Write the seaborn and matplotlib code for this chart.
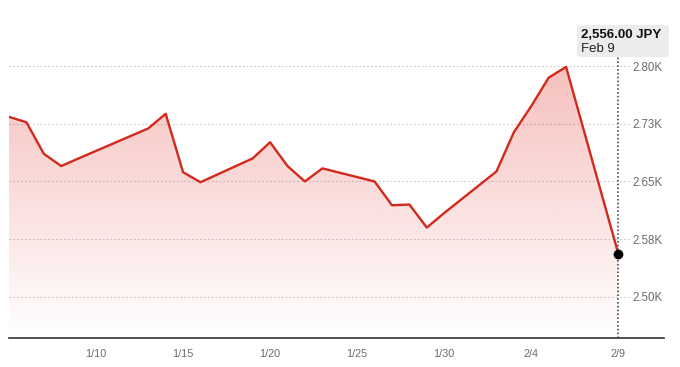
import numpy as np
import pandas as pd
import matplotlib
matplotlib.use("Agg")
import matplotlib.pyplot as plt
import matplotlib.dates as mdates
from matplotlib.patches import FancyBboxPatch
import seaborn as sns

# ---- data ----
dates = ["2026-01-05", "2026-01-06", "2026-01-07", "2026-01-08", "2026-01-09",
         "2026-01-13", "2026-01-14", "2026-01-15", "2026-01-16", "2026-01-19",
         "2026-01-20", "2026-01-21", "2026-01-22", "2026-01-23", "2026-01-26",
         "2026-01-27", "2026-01-28", "2026-01-29", "2026-01-30", "2026-02-02",
         "2026-02-03", "2026-02-04", "2026-02-05", "2026-02-06", "2026-02-09"]
values = [2734, 2727, 2686, 2670, 2680, 2719, 2738, 2662, 2649, 2680,
          2701, 2670, 2650, 2667, 2650, 2619, 2620, 2590, 2609, 2663,
          2714, 2748, 2785, 2799, 2556]
ytick_vals = [2500, 2575, 2650, 2725, 2800]
ytick_labels = ["2.50K", "2.58K", "2.65K", "2.73K", "2.80K"]
xtick_dates = ["2026-01-10", "2026-01-15", "2026-01-20", "2026-01-25",
               "2026-01-30", "2026-02-04", "2026-02-09"]
xtick_labels = ["1/10", "1/15", "1/20", "1/25", "1/30", "2/4", "2/9"]
tooltip_value = "2,556.00 JPY"
tooltip_date = "Feb 9"

df = pd.DataFrame({"date": pd.to_datetime(dates), "value": values})

sns.set_style("white")
plt.rcParams["font.family"] = ["Liberation Sans", "DejaVu Sans"]

W, H = 680, 367
fig = plt.figure(figsize=(W / 100, H / 100), dpi=100)
left_px, right_px, top_px, bot_px = 9, 664, 20, 338.3
ax = fig.add_axes([left_px / W, 1 - bot_px / H, (right_px - left_px) / W, (bot_px - top_px) / H])

line_color = "#d3281c"
ymin, ymax = 2446, 2860
ax.set_ylim(ymin, ymax)
x0 = pd.Timestamp("2026-01-05")
x1 = pd.Timestamp("2026-02-11 15:00")
ax.set_xlim(x0, x1)

# gradient fill under the line
xnum = mdates.date2num(df["date"])
poly = ax.fill_between(xnum, df["value"], ymin, facecolor="none", edgecolor="none")
grad = np.linspace(0, 1, 256).reshape(-1, 1)
top_v = 2810
alpha = 0.30 * (np.linspace(ymin, top_v, 256) - ymin) / (2800 - ymin)
rgba = np.zeros((256, 1, 4))
rgba[..., 0] = 225 / 255
rgba[..., 1] = 45 / 255
rgba[..., 2] = 35 / 255
rgba[..., 3] = alpha.reshape(-1, 1)
im = ax.imshow(rgba, extent=[xnum.min(), xnum.max(), ymin, top_v], origin="lower",
               aspect="auto", zorder=1, interpolation="bilinear")
im.set_clip_path(poly.get_paths()[0], transform=ax.transData)
ax.set_xlim(x0, x1)
ax.set_ylim(ymin, ymax)

# gridlines (stop before the labels)
grid_end = mdates.date2num(pd.Timestamp("2026-02-09 15:00"))
ax.hlines(ytick_vals, mdates.date2num(x0), grid_end, colors="#c9c9c9",
          linestyles=(0, (1.5, 2)), linewidth=0.8, zorder=0.5)

sns.lineplot(data=df, x="date", y="value", ax=ax, color=line_color,
             linewidth=1.7, zorder=3)

# hover line and last point
last_date = df["date"].iloc[-1]
ax.axvline(last_date, ymin=0, ymax=(bot_px - 57) / (bot_px - top_px),
           color="#333333", linestyle=(0, (1, 1.5)), linewidth=1.1, zorder=2)
ax.scatter([last_date], [df["value"].iloc[-1]], s=36, color="black", zorder=5)

# axes styling
ax.set_xticks(pd.to_datetime(xtick_dates))
ax.set_xticklabels(xtick_labels)
ax.set_yticks(ytick_vals)
ax.set_yticklabels(ytick_labels)
ax.yaxis.tick_right()
ax.tick_params(axis="y", length=0, pad=-1, labelsize=8.3, labelcolor="#6b6b6b")
for t in ax.get_yticklabels():
    t.set_horizontalalignment("right")
ax.tick_params(axis="x", length=3, width=1, color="#333333", pad=5,
               labelsize=7.8, labelcolor="#6b6b6b")
ax.set_xlabel("")
ax.set_ylabel("")
for s in ["top", "right", "left"]:
    ax.spines[s].set_visible(False)
ax.spines["bottom"].set_color("#333333")
ax.spines["bottom"].set_linewidth(1.2)
ax.set_facecolor("none")

# tooltip
bx0, by0, bx1, by1 = 577, 25, 669, 57
box = FancyBboxPatch((bx0 / W, 1 - by1 / H), (bx1 - bx0) / W, (by1 - by0) / H,
                     boxstyle="round,pad=0,rounding_size=0.006",
                     transform=fig.transFigure, facecolor="#ececec",
                     edgecolor="none", zorder=10)
fig.patches.append(box)
fig.text(581 / W, 1 - 35 / H, tooltip_value, fontsize=9.5, fontweight="bold",
         color="#111111", va="center", ha="left", zorder=11)
fig.text(581 / W, 1 - 48.5 / H, tooltip_date, fontsize=9.5,
         color="#222222", va="center", ha="left", zorder=11)

fig.savefig("out.png", dpi=100)
